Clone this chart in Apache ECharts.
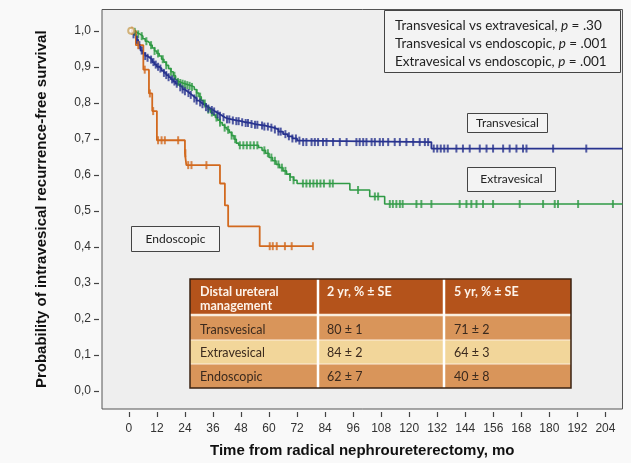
<!DOCTYPE html>
<html><head><meta charset="utf-8">
<script src="https://cdn.jsdelivr.net/npm/echarts@6/dist/echarts.min.js"></script>
<style>html,body{margin:0;padding:0;background:#f9f9f9}#c{width:631px;height:463px}</style>
</head><body><div id="c"></div>
<script>
// ---- data ----
const xTicks = [0,12,24,36,48,60,72,84,96,108,120,132,144,156,168,180,192,204];
const yTicks = [0,0.1,0.2,0.3,0.4,0.5,0.6,0.7,0.8,0.9,1.0];

const transTimes = [1,2,3,4,5,6,7,8,9,10,11,12,13,14,15,16,17,18,19,20,21,22,23,24,25,26,27,28,29,30,31,32,33,34,35,36,37,38,39,40,41,42,44,46,48,50,52,54,56,58,60,62,64,66,68,70,72,73.5,129.5,211.3];
const transSurv  = [1.0,0.99,0.975,0.96,0.945,0.937,0.93,0.925,0.92,0.913,0.906,0.9,0.895,0.889,0.883,0.877,0.871,0.865,0.859,0.853,0.848,0.843,0.837,0.832,0.827,0.822,0.817,0.812,0.806,0.801,0.796,0.792,0.788,0.784,0.78,0.776,0.772,0.768,0.764,0.76,0.757,0.754,0.751,0.749,0.746,0.744,0.741,0.739,0.737,0.734,0.731,0.726,0.72,0.713,0.707,0.701,0.695,0.691,0.673,0.673];
const transCensor = [2,3.5,4.5,5.5,7,8,9.5,10.5,11.5,12.5,13.5,15,16,17,18.5,19.5,20.5,22,23,24,25.5,26.5,28,29,30.5,31.5,33,34,35.5,36.5,38,39,40.5,42,43,44.5,46,47,48.5,50,51,52.5,54,55,57,58,59.5,61,62.5,64,65,67,68.5,70,71.5,73,
  74.6,76,78.2,79.6,81,83.1,84.6,87.4,90.3,93.2,97.4,98.8,100.3,101.7,103.9,105.3,107.4,108.8,111,113.8,116,118.8,121.7,124.5,126.7,128.1,
  130.5,132,133.5,135,136.5,140.2,143,145.9,150.2,153.1,155.9,160.2,163,165.9,168.7,170.2,181.6,195.8];

const extraTimes = [1,2,3,4,5,6,7,8,9,10,11,12,13,14,15,16,17,18,19,20,21,22,23,24,25,26,27,28,29,30,31,32,33,34,35,36,37,38,39,40,41,42,43,44,45,46,47,55.5,57,58.5,60,61.5,63,64.5,66,67.5,69,70.5,72,94.6,103.1,109.5,211.3];
const extraSurv  = [1.0,0.997,0.993,0.99,0.985,0.978,0.971,0.966,0.96,0.952,0.944,0.937,0.93,0.921,0.913,0.904,0.895,0.886,0.875,0.864,0.858,0.855,0.853,0.851,0.849,0.847,0.844,0.837,0.827,0.817,0.807,0.798,0.79,0.781,0.773,0.766,0.759,0.752,0.745,0.738,0.731,0.725,0.718,0.709,0.699,0.688,0.682,0.676,0.668,0.66,0.648,0.639,0.629,0.62,0.611,0.602,0.594,0.585,0.576,0.558,0.54,0.519,0.519];
const extraCensor = [2.5,4,5.5,7.5,9.5,11,12.5,14.5,16,18,19.5,21,22,23,24,25,26,27,29,30.5,32.5,34,35.5,37.5,39,41,42.5,44,45.5,47.5,49,50.5,52,53.5,55,58,59.5,61,62.5,64,65.5,67,69,70.5,
  74.5,76,77.5,79,80.5,82,83.5,86,87.3,98.1,105.3,106.7,111.7,113,114.5,116,117.2,123.1,125.2,129.5,141.6,144.5,146.6,148.8,151.6,155.9,167.3,177.3,182.3,183.7,192.3,207.2];

const endoTimes = [1.3,3.0,6.2,8.6,10.0,12.0,24.0,24.6,39.0,41.1,42.5,56.0,78.8];
const endoSurv  = [1.0,0.96,0.892,0.826,0.777,0.696,0.66,0.627,0.576,0.515,0.457,0.402,0.402];
const endoCensor = [1.3,4.0,6.8,9.0,10.4,12.5,14,15.4,21.1,24.2,25.4,26.8,33.2,60.3,61.6,63.3,66.8,69.7,78.8];

const pvalueLines = [
  ['Transvesical vs extravesical, ', '.30'],
  ['Transvesical vs endoscopic, ', '.001'],
  ['Extravesical vs endoscopic, ', '.001']
];
const tableHeader = [['Distal ureteral','management'], ['2 yr, % \u00b1 SE'], ['5 yr, % \u00b1 SE']];
const tableGroups = ['Transvesical','Extravesical','Endoscopic'];
const table2yr = ['80 \u00b1 1','84 \u00b1 2','62 \u00b1 7'];
const table5yr = ['71 \u00b1 2','64 \u00b1 3','40 \u00b1 8'];

// ---- build ----
function pairs(ts, vs){ return ts.map((t,i)=>[t,vs[i]]); }
function survAt(ts, vs, t){ let v = vs[0]; for (let i=0;i<ts.length;i++){ if (ts[i] <= t) v = vs[i]; } return v; }
function censorPts(c, ts, vs){ return c.map(t=>[t, survAt(ts, vs, t)]); }

const BLUE = '#28338f', GREEN = '#2f9a45', ORANGE = '#d2691e';
const chart = echarts.init(document.getElementById('c'));

function stepSeries(name, data, color, w){
  return {type:'line', name, data, step:'end', showSymbol:false, symbol:'none',
    lineStyle:{color, width:w}, itemStyle:{color}, animation:false, z:3};
}
function censorSeries(data, color){
  return {type:'scatter', data, symbol:'rect', symbolSize:[2,8], itemStyle:{color}, animation:false, z:4};
}

const graphics = [];
graphics.push({type:'rect', shape:{x:384.5,y:10.5,width:236,height:62}, style:{fill:'#f3f3f3', stroke:'#444', lineWidth:1}, z:10});
pvalueLines.forEach((l,i)=>{
  graphics.push({type:'text', x:395, y:[26,44,62][i], z:11, style:{
    text: l[0] + '{i|p} = ' + l[1], font:'13.5px Lato', fill:'#222', verticalAlign:'middle',
    rich:{i:{fontStyle:'italic', font:'italic 13.5px Lato', fill:'#222'}}}});
});
const labelBoxes = [
  {t:'Transvesical', x:467, y:113, w:80, h:19},
  {t:'Extravesical', x:467, y:167, w:88, h:24},
  {t:'Endoscopic', x:131, y:226, w:88, h:25}
];
labelBoxes.forEach(b=>{
  graphics.push({type:'rect', shape:{x:b.x+0.5,y:b.y+0.5,width:b.w,height:b.h}, style:{fill:'#f3f3f3', stroke:'#444', lineWidth:1}, z:10});
  graphics.push({type:'text', x:b.x+b.w/2+0.5, y:b.y+b.h/2+0.5, z:11, style:{text:b.t, font:'12px Lato', fill:'#222', align:'center', verticalAlign:'middle'}});
});
const tx = [190, 318, 444, 571];
const ty = [279, 315, 340, 364, 388];
const rowFill = ['#b4531b', '#d9955a', '#f2d69a', '#d9955a'];
for (let r=0;r<4;r++){
  graphics.push({type:'rect', shape:{x:tx[0], y:ty[r], width:tx[3]-tx[0], height:ty[r+1]-ty[r]}, style:{fill:rowFill[r]}, z:10});
}
[1,2,3].forEach(r=>{
  graphics.push({type:'line', shape:{x1:tx[0], y1:ty[r], x2:tx[3], y2:ty[r]}, style:{stroke:'#fbeede', lineWidth: r===1?2.5:1.2}, z:11});
});
[1,2].forEach(c=>{
  graphics.push({type:'line', shape:{x1:tx[c], y1:ty[0], x2:tx[c], y2:ty[4]}, style:{stroke:'#ffffff', lineWidth:2.5}, z:11});
});
graphics.push({type:'rect', shape:{x:tx[0], y:ty[0], width:tx[3]-tx[0], height:ty[4]-ty[0]}, style:{fill:'none', stroke:'#3a2212', lineWidth:1.5}, z:12});
const colTextX = [200, 327, 454];
tableHeader.forEach((lines,c)=>{
  lines.forEach((s,k)=>{
    graphics.push({type:'text', x:colTextX[c], y:291.5 + k*14, z:13, style:{text:s, font:'bold 12.5px Lato', fill:'#fdf3ea', verticalAlign:'middle'}});
  });
});
const rowY = [329.5, 353, 376.5];
tableGroups.forEach((g,i)=>{
  [g, table2yr[i], table5yr[i]].forEach((s,c)=>{
    graphics.push({type:'text', x:colTextX[c], y:rowY[i], z:13, style:{text:s, font:'12.5px Lato', fill:'#3b2a1e', verticalAlign:'middle'}});
  });
});

const option = {
  backgroundColor:'#f9f9f9',
  animation:false,
  grid:{left:102, right:8.5, top:9.5, bottom:49.7, show:true, backgroundColor:'#eeeeee', borderColor:'#555', borderWidth:1},
  xAxis:{type:'value', min:-11.5, max:211.3, offset:3, position:'bottom',
    axisLine:{show:false, onZero:false},
    axisTick:{show:true, customValues:xTicks, length:5, lineStyle:{color:'#444', width:1.2}},
    axisLabel:{customValues:xTicks, fontSize:12, color:'#333', fontFamily:'Liberation Sans', margin:11},
    splitLine:{show:false},
    name:'Time from radical nephroureterectomy, mo', nameLocation:'middle', nameGap:31,
    nameTextStyle:{fontSize:15, fontWeight:'bold', color:'#111', fontFamily:'Liberation Sans'}},
  yAxis:{type:'value', min:-0.05, max:1.059, offset:3, position:'left',
    axisLine:{show:false, onZero:false},
    axisTick:{show:true, customValues:yTicks, length:5, lineStyle:{color:'#444', width:1.2}},
    axisLabel:{customValues:yTicks, fontSize:12, color:'#333', fontFamily:'Liberation Sans', margin:8,
      formatter:v=>v.toFixed(1).replace('.', ',')},
    splitLine:{show:false},
    name:'Probability of intravesical recurrence-free survival', nameLocation:'middle', nameGap:50,
    nameTextStyle:{fontSize:15, fontWeight:'bold', color:'#111', fontFamily:'Liberation Sans'}},
  series:[
    stepSeries('Extravesical', pairs(extraTimes, extraSurv), GREEN, 1.6),
    stepSeries('Transvesical', pairs(transTimes, transSurv), BLUE, 1.8),
    stepSeries('Endoscopic', pairs(endoTimes, endoSurv), ORANGE, 1.8),
    censorSeries(censorPts(extraCensor, extraTimes, extraSurv), GREEN),
    censorSeries(censorPts(transCensor, transTimes, transSurv), BLUE),
    censorSeries(censorPts(endoCensor, endoTimes, endoSurv), ORANGE),
    {type:'scatter', data:[[1,1.0]], symbol:'emptyCircle', symbolSize:6, itemStyle:{color:'#c9a15a', borderColor:'#c9a15a', borderWidth:1.5}, z:5, animation:false}
  ],
  graphic: graphics
};
chart.setOption(option);
</script></body></html>
